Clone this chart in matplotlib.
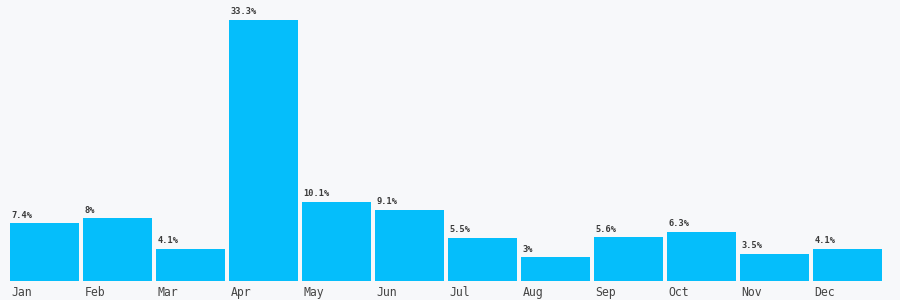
import matplotlib.pyplot as plt
import matplotlib.transforms as mtransforms

months = ['Jan', 'Feb', 'Mar', 'Apr', 'May', 'Jun', 'Jul', 'Aug', 'Sep', 'Oct', 'Nov', 'Dec']
shares = [7.4, 8, 4.1, 33.3, 10.1, 9.1, 5.5, 3, 5.6, 6.3, 3.5, 4.1]
labels = ['7.4%', '8%', '4.1%', '33.3%', '10.1%', '9.1%', '5.5%', '3%', '5.6%', '6.3%', '3.5%', '4.1%']

bg = '#f7f8fa'
bar_color = '#05befb'
text_color = '#444444'
width = 0.945

fig = plt.figure(figsize=(9, 3), dpi=100, facecolor=bg)
# axes: x 8..884 px, y 20..281 px (from top)
ax = fig.add_axes([8 / 900, 19 / 300, 876 / 900, 261 / 300])
ax.set_facecolor(bg)

x = list(range(len(months)))
ax.bar(x, shares, width=width, color=bar_color, linewidth=0)
ax.set_xlim(-0.5, len(months) - 0.5)
ax.set_ylim(0, max(shares))
ax.axis('off')

# offsets in pixels, text placed on its baseline
val_off = mtransforms.offset_copy(ax.transData, fig=fig, x=1.5, y=5.5, units='dots')
mon_off = mtransforms.offset_copy(ax.transData, fig=fig, x=1.5, y=-15, units='dots')

for i in x:
    left = i - width / 2
    ax.text(left, shares[i], labels[i], transform=val_off, fontsize=6.2,
            family='DejaVu Sans Mono', fontweight='bold', color='#3a3a3a',
            ha='left', va='baseline', clip_on=False)
    ax.text(left, 0, months[i], transform=mon_off, fontsize=8.3,
            family='DejaVu Sans Mono', color=text_color, ha='left', va='baseline',
            clip_on=False)

fig.savefig('out.png', dpi=100, facecolor=bg)
